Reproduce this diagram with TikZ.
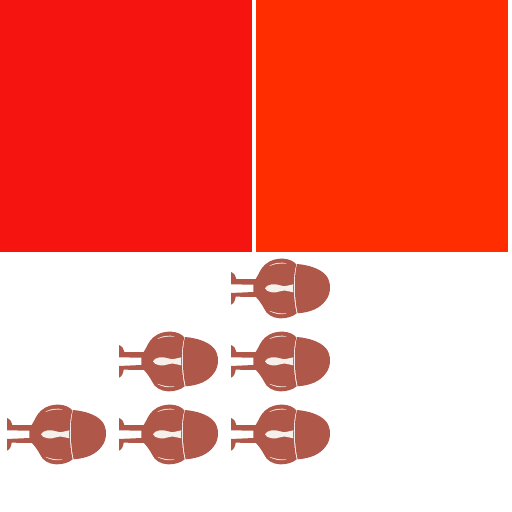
\documentclass[tikz,border=0pt]{standalone}
\definecolor{redA}{HTML}{F5140F}
\definecolor{redB}{HTML}{FF2D00}
\definecolor{bodyc}{HTML}{AF5749}
\definecolor{creamc}{HTML}{F5F0EA}
\tikzset{
  px/.style={x=0.75pt,y=-0.75pt},
  pic1/.pic={
    \begin{scope}[x=0.25pt,y=-0.25pt]
    \fill[bodyc] (18,66) .. controls (28,70) and (33,78) .. (34,87) -- (92,87)
      .. controls (102,72) and (106,56) .. (120,44)
      .. controls (136,29) and (158,25) .. (175,26)
      .. controls (192,27) and (205,33) .. (214,43)
      .. controls (204,75) and (204,145) .. (215,190)
      .. controls (205,199) and (185,206) .. (165,205)
      .. controls (143,204) and (124,193) .. (117,175)
      .. controls (110,162) and (103,152) .. (93,141) -- (32,140)
      .. controls (31,151) and (26,161) .. (18,164) -- (18,129) -- (85,126) -- (85,104) -- (18,103) -- cycle;
    \fill[bodyc] (216,42) .. controls (207,75) and (207,145) .. (218,190)
      .. controls (255,187) and (285,176) .. (303,150)
      .. controls (319,130) and (319,95) .. (303,76)
      .. controls (285,55) and (250,45) .. (216,42) -- cycle;
    \fill[creamc] (120,115) .. controls (124,103) and (150,99) .. (165,106)
      .. controls (172,111) and (178,109) .. (205,103)
      .. controls (204,110) and (204,120) .. (205,127)
      .. controls (178,121) and (172,119) .. (165,124)
      .. controls (150,131) and (124,127) .. (120,115) -- cycle;
    \fill[creamc] (134,47) .. controls (150,38) and (168,36) .. (184,40)
      .. controls (168,39) and (150,41) .. (134,47) -- cycle;
    \fill[creamc] (134,183) .. controls (150,192) and (168,195) .. (184,191)
      .. controls (168,192) and (150,189) .. (134,183) -- cycle;
    \draw[creamc,line width=0.2pt] (134,47) .. controls (150,40) and (168,38) .. (184,40);
    \draw[creamc,line width=0.2pt] (134,183) .. controls (150,190) and (168,193) .. (184,191);
    \end{scope}
  }
}
\begin{document}
\begin{tikzpicture}[px]
\useasboundingbox (0,0) rectangle (512,512);
\fill[white] (0,0) rectangle (512,512);
\fill[redA] (0,0) rectangle (252,252);
\fill[redB] (256,0) rectangle (508,252);
\path (225,250) pic {pic1};
\path (113,323) pic {pic1};
\path (225,323) pic {pic1};
\path (1,396) pic {pic1};
\path (113,396) pic {pic1};
\path (225,396) pic {pic1};
\end{tikzpicture}
\end{document}
